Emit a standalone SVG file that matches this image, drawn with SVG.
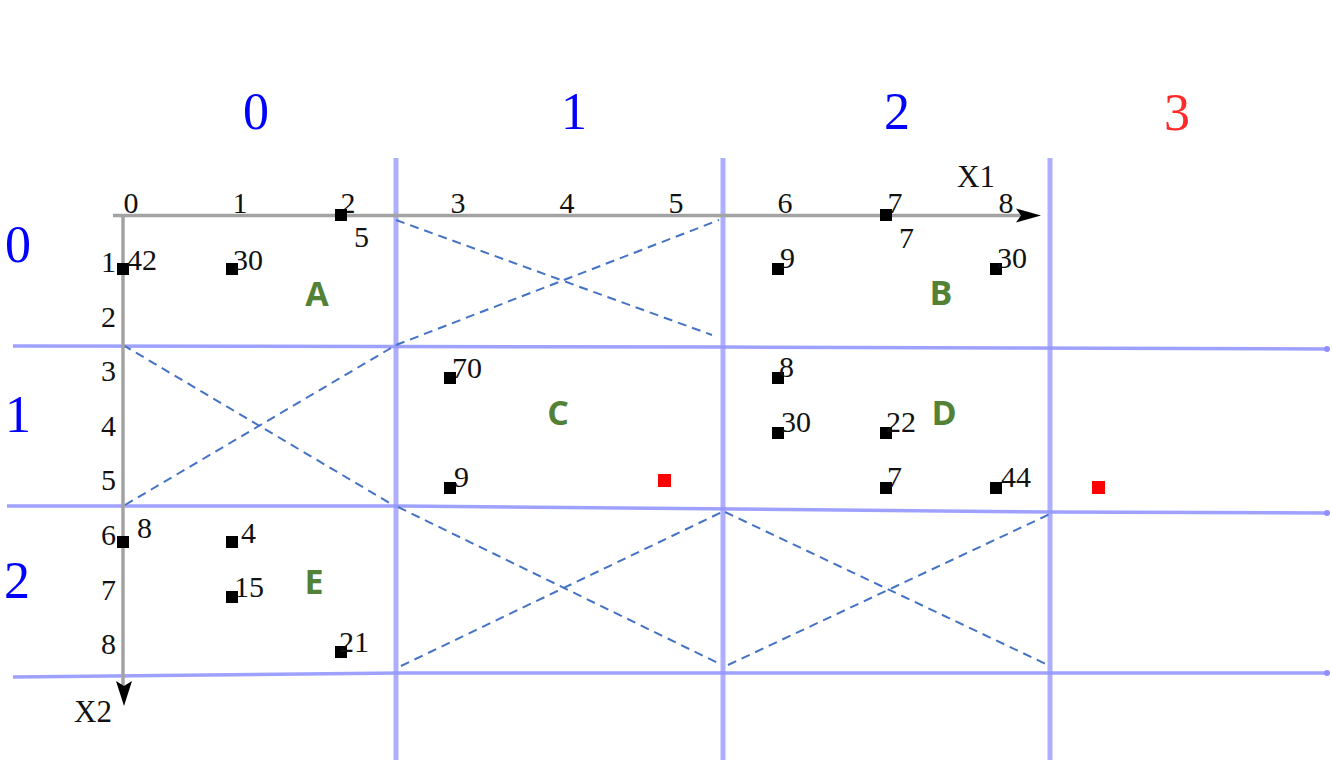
<svg xmlns="http://www.w3.org/2000/svg" width="1332" height="764" viewBox="0 0 1332 764">
<style>
.vl{stroke:#adaeff;stroke-width:5;fill:none}
.hl{stroke:#9597ff;stroke-width:3.5;fill:none;stroke-opacity:0.9}
.ax{stroke:#a3a3a3;stroke-width:3.5;fill:none}
.dash{stroke:#4472c4;stroke-width:2;fill:none;stroke-dasharray:9 6}
.t{font-family:"Liberation Serif","DejaVu Serif",serif;font-size:30px;fill:#111}
.tk{font-family:"Liberation Serif","DejaVu Serif",serif;font-size:30px;fill:#111;text-anchor:middle}
.yl{font-family:"Liberation Serif","DejaVu Serif",serif;font-size:30px;fill:#111;text-anchor:end}
.big{font-family:"Liberation Serif","DejaVu Serif",serif;font-size:52px;fill:#0000ff;text-anchor:middle}
.lab{font-family:"Open Sans","Liberation Sans",sans-serif;font-size:34px;font-weight:bold;fill:#538135;text-anchor:middle}
.sq{fill:#000}
.rsq{fill:#ff0000}
</style>
<rect width="1332" height="764" fill="#ffffff"/>
<g id="grid">
<line class="vl" x1="396" y1="158" x2="396" y2="760"/>
<line class="vl" x1="723" y1="158" x2="723" y2="760"/>
<line class="vl" x1="1050" y1="158" x2="1050" y2="760"/>
<polyline class="hl" points="13,346 723,347 1328,349"/>
<polyline class="hl" points="7,506 400,506 1050,512 1328,513"/>
<polyline class="hl" points="13,677 400,673 1328,673"/>
<circle cx="1327" cy="349" r="3" fill="#8e90ff"/>
<circle cx="1327" cy="513" r="3" fill="#8e90ff"/>
<circle cx="1327" cy="673" r="3" fill="#8e90ff"/>
</g>
<g id="headers">
<text class="big" x="256" y="129">0</text>
<text class="big" x="574" y="129">1</text>
<text class="big" x="897" y="129">2</text>
<text class="big" x="1177" y="130" style="fill:#ff2a2a">3</text>
<text class="big" x="18" y="262">0</text>
<text class="big" x="18" y="432">1</text>
<text class="big" x="17" y="598">2</text>
</g>
<g id="connectors">
<line class="dash" x1="396" y1="220" x2="712" y2="335"/>
<line class="dash" x1="396" y1="345" x2="719" y2="220"/>
<line class="dash" x1="123" y1="345" x2="393" y2="505"/>
<line class="dash" x1="125" y1="505" x2="391" y2="348"/>
<line class="dash" x1="398" y1="507" x2="720" y2="664"/>
<line class="dash" x1="401" y1="666" x2="722" y2="512"/>
<line class="dash" x1="725" y1="512" x2="1048" y2="665"/>
<line class="dash" x1="728" y1="665" x2="1050" y2="514"/>
</g>
<g id="axes">
<line class="ax" x1="113" y1="215.5" x2="1022" y2="215.5"/>
<polygon points="1041,215.5 1016,208.5 1021,215.5 1016,222.5" fill="#000"/>
<line class="ax" x1="123" y1="215" x2="123" y2="688"/>
<polygon points="124,706 116,681 124,686 132,681" fill="#000"/>
<text class="t" x="957" y="187" style="font-size:31px">X1</text>
<text class="t" x="74" y="722" style="font-size:31px">X2</text>
<text class="tk" x="131" y="213">0</text>
<text class="tk" x="240" y="213">1</text>
<text class="tk" x="348" y="213">2</text>
<text class="tk" x="458" y="213">3</text>
<text class="tk" x="567" y="213">4</text>
<text class="tk" x="676" y="213">5</text>
<text class="tk" x="785" y="213">6</text>
<text class="tk" x="895" y="213">7</text>
<text class="tk" x="1006" y="213">8</text>
<text class="yl" x="116" y="272">1</text>
<text class="yl" x="116" y="327">2</text>
<text class="yl" x="116" y="381">3</text>
<text class="yl" x="116" y="436">4</text>
<text class="yl" x="116" y="490">5</text>
<text class="yl" x="116" y="545">6</text>
<text class="yl" x="116" y="600">7</text>
<text class="yl" x="116" y="654">8</text>
</g>
<g id="labels">
<text class="lab" x="317" y="306">A</text>
<text class="lab" x="941" y="305">B</text>
<text class="lab" x="558" y="425">C</text>
<text class="lab" x="944" y="425">D</text>
<text class="lab" x="314" y="594">E</text>
</g>
<g id="p-2-0"><rect class="sq" x="335" y="209" width="12" height="12"/><text class="t" x="354" y="247">5</text></g>
<g id="p-0-1"><rect class="sq" x="117" y="263" width="12" height="12"/><text class="t" x="127" y="270">42</text></g>
<g id="p-1-1"><rect class="sq" x="226" y="263" width="12" height="12"/><text class="t" x="233" y="270">30</text></g>
<g id="p-7-0"><rect class="sq" x="880" y="209" width="12" height="12"/><text class="t" x="899" y="248">7</text></g>
<g id="p-6-1"><rect class="sq" x="772" y="263" width="12" height="12"/><text class="t" x="780" y="268">9</text></g>
<g id="p-8-1"><rect class="sq" x="990" y="263" width="12" height="12"/><text class="t" x="997" y="268">30</text></g>
<g id="p-3-3"><rect class="sq" x="444" y="372" width="12" height="12"/><text class="t" x="452" y="378">70</text></g>
<g id="p-6-3"><rect class="sq" x="772" y="372" width="12" height="12"/><text class="t" x="779" y="377">8</text></g>
<g id="p-6-4"><rect class="sq" x="772" y="427" width="12" height="12"/><text class="t" x="781" y="432">30</text></g>
<g id="p-7-4"><rect class="sq" x="880" y="427" width="12" height="12"/><text class="t" x="886" y="432">22</text></g>
<g id="p-3-5"><rect class="sq" x="444" y="482" width="12" height="12"/><text class="t" x="454" y="487">9</text></g>
<g id="p-7-5"><rect class="sq" x="880" y="482" width="12" height="12"/><text class="t" x="887" y="487">7</text></g>
<g id="p-8-5"><rect class="sq" x="990" y="482" width="12" height="12"/><text class="t" x="1001" y="487">44</text></g>
<g id="p-0-6"><rect class="sq" x="117" y="536" width="12" height="12"/><text class="t" x="137" y="538">8</text></g>
<g id="p-1-6"><rect class="sq" x="226" y="536" width="12" height="12"/><text class="t" x="241" y="543">4</text></g>
<g id="p-1-7"><rect class="sq" x="226" y="591" width="12" height="12"/><text class="t" x="234" y="597">15</text></g>
<g id="p-2-8"><rect class="sq" x="335" y="646" width="12" height="12"/><text class="t" x="339" y="652">21</text></g>
<g id="red-1"><rect class="rsq" x="658" y="474" width="13" height="13"/></g>
<g id="red-2"><rect class="rsq" x="1092" y="481" width="13" height="13"/></g>
</svg>
